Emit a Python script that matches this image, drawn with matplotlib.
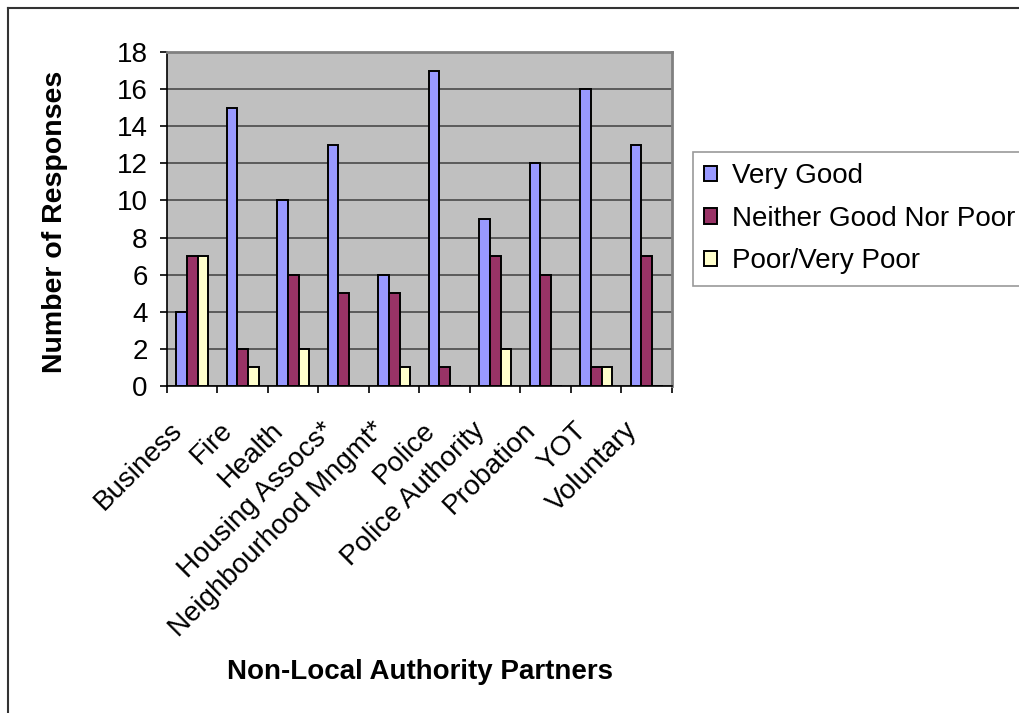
import matplotlib

matplotlib.use("Agg")
import matplotlib.pyplot as plt
import matplotlib.transforms as mtransforms
import numpy as np
from matplotlib.lines import Line2D

plt.rcParams["font.family"] = ["Liberation Sans", "DejaVu Sans"]

partners = [
    "Business", "Fire", "Health", "Housing Assocs*", "Neighbourhood Mngmt*",
    "Police", "Police Authority", "Probation", "YOT", "Voluntary",
]
very_good = [4, 15, 10, 13, 6, 17, 9, 12, 16, 13]
neither = [7, 2, 6, 5, 5, 1, 7, 6, 1, 7]
poor = [7, 1, 2, 0, 1, 0, 2, 0, 1, 0]
series_names = ["Very Good", "Neither Good Nor Poor", "Poor/Very Poor"]
colors = ["#9999FF", "#993366", "#FFFFCC"]

W, H = 1020, 713
fig = plt.figure(figsize=(W / 100, H / 100), dpi=100)
ax = fig.add_axes([167 / W, 1 - 386 / H, (672 - 167) / W, (386 - 52) / H])
ax.set_facecolor("#C0C0C0")

x = np.arange(len(partners))
width = 0.21
for i, (vals, name, c) in enumerate(zip([very_good, neither, poor], series_names, colors)):
    ax.bar(x + (i - 1) * width, vals, width, color=c, edgecolor="black",
           linewidth=1.4, label=name, zorder=3)

ax.set_xlim(-0.5, len(partners) - 0.5)
ax.set_ylim(0, 18)
ax.set_yticks(range(0, 19, 2))
ax.yaxis.grid(True, color="#4a4a4a", linewidth=1.2, zorder=0)
ax.tick_params(axis="y", labelsize=20, length=5, width=1.2, direction="out", pad=9)

ax.set_xticks(x)
ax.set_xticklabels(partners, rotation=45, ha="right", va="top",
                   rotation_mode="anchor", fontsize=20)
ax.tick_params(axis="x", length=0, pad=6)
# shift the slanted labels back along their direction, like the original
shift = mtransforms.ScaledTranslation(-0.23, -0.23, fig.dpi_scale_trans)
for lbl in ax.get_xticklabels():
    lbl.set_transform(lbl.get_transform() + shift)
ax.set_xticks(np.arange(-0.5, len(partners) + 0.5, 1), minor=True)
ax.tick_params(axis="x", which="minor", length=5, width=1.2, direction="out")

for side in ["top", "right"]:
    ax.spines[side].set_color("#808080")
    ax.spines[side].set_linewidth(2)
for side in ["left", "bottom"]:
    ax.spines[side].set_color("black")
    ax.spines[side].set_linewidth(1.2)

fig.text(55 / W, 1 - 222 / H, "Number of Responses", rotation=90, ha="center",
         va="center", fontsize=20.5, fontweight="bold")
fig.text(420 / W, 1 - 672 / H, "Non-Local Authority Partners", ha="center",
         va="center", fontsize=20, fontweight="bold")

leg = fig.legend(loc="upper left", bbox_to_anchor=(693 / W, 1 - 152 / H),
                 fontsize=20, frameon=True, fancybox=False, edgecolor="#808080",
                 handlelength=0.47, handleheight=0.47, handletextpad=0.55,
                 borderpad=0.4, labelspacing=0.6, borderaxespad=0)
leg.get_frame().set_linewidth(1.2)
for h in leg.legend_handles:
    h.set_linewidth(1.4)

fig.add_artist(Line2D([8 / W, 8 / W], [0, 1 - 8 / H], color="#333333", linewidth=1.5))
fig.add_artist(Line2D([8 / W, 1], [1 - 8 / H, 1 - 8 / H], color="#333333", linewidth=1.5))

fig.savefig("out.png", dpi=100)
